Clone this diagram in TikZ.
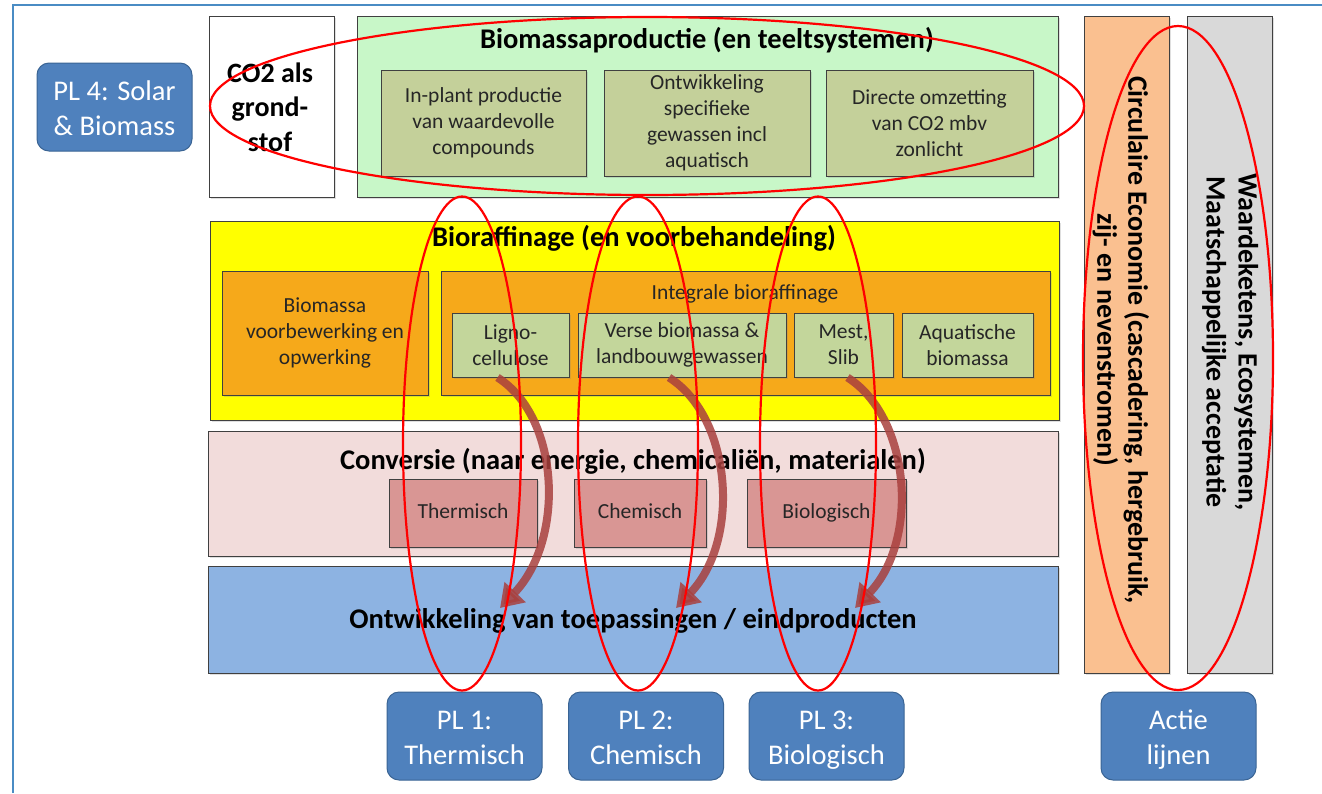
\documentclass[tikz,border=0pt]{standalone}
\usepackage{fontspec}
\setmainfont{Carlito}
\usetikzlibrary{arrows.meta, shadows}

\definecolor{frameblue}{HTML}{4A8CC4}
\definecolor{plblue}{HTML}{4F81BD}
\definecolor{plborder}{HTML}{3A6494}
\definecolor{prodgreen}{HTML}{C8F7C8}
\definecolor{olive}{HTML}{C4D09A}
\definecolor{refyellow}{HTML}{FFFF00}
\definecolor{refora}{HTML}{F6A91A}
\definecolor{ligreen}{HTML}{C3D69B}
\definecolor{convpink}{HTML}{F2DCDB}
\definecolor{convred}{HTML}{D99694}
\definecolor{devblue}{HTML}{8DB3E2}
\definecolor{peach}{HTML}{FAC090}
\definecolor{lgray}{HTML}{D9D9D9}
\definecolor{flowbrown}{HTML}{A9403E}

\tikzset{
  box/.style={draw=black!75, line width=1pt, inner sep=0pt,
    drop shadow={opacity=0.25, shadow xshift=1.5pt, shadow yshift=-1.5pt}},
  sub/.style={box, align=center, text=black!85,
    font=\fontsize{21.5}{26}\selectfont},
  title/.style={font=\bfseries\fontsize{28.5}{31}\selectfont, inner sep=0pt},
  plbox/.style={draw=plborder, line width=1pt, fill=plblue, rounded corners=12pt,
    minimum width=155pt, minimum height=88pt, text=white, align=center,
    text height=63pt, text depth=7pt, font=\fontsize{28.5}{35}\selectfont},
  ring/.style={draw=red, line width=2.2pt},
  flow/.style={draw=flowbrown, opacity=0.85, line width=8pt,
    -{Triangle[length=22pt, width=28pt]}}
}

\begin{document}
\begin{tikzpicture}[x=1pt, y=-1pt]
  \useasboundingbox (0,0) rectangle (1322,793);
  \fill[white] (0,0) rectangle (1322,793);
  % outer frame
  \draw[frameblue, line width=1.5pt] (13,793) -- (13,5) -- (1322,5);

  % action line PL 4
  \node[plbox] (pl4) at (114.5,107) {PL 4: Solar\\\& Biomass};

  % top row
  \node[box, fill=white, minimum width=125pt, minimum height=181pt] (co2) at (271.5,106.5) {};
  \node[align=center, font=\bfseries\fontsize{28}{34.5}\selectfont] (co2t) at (270,107) {CO2 als\\grond-\\stof};
  \node[box, fill=prodgreen, minimum width=701pt, minimum height=181pt] (prod) at (707.5,106.5) {};
  \node[title] (prodt) at (707,40) {Biomassaproductie (en teeltsystemen)};
  \node[sub, fill=olive, minimum width=205pt, minimum height=106pt] (inplant) at (483.5,123) {In-plant productie\\van waardevolle\\compounds};
  \node[sub, fill=olive, minimum width=206pt, minimum height=106pt] (gewas) at (707,123) {Ontwikkeling\\specifieke\\gewassen incl\\aquatisch};
  \node[sub, fill=olive, minimum width=207pt, minimum height=106pt] (direct) at (929.5,123) {Directe omzetting\\van CO2 mbv\\zonlicht};

  % bioraffinage
  \node[box, fill=refyellow, minimum width=849pt, minimum height=199pt] (raff) at (634.5,320.5) {};
  \node[title] (rafft) at (634,238) {Bioraffinage (en voorbehandeling)};
  \node[sub, fill=refora, minimum width=206pt, minimum height=124pt] (voorb) at (325,333) {Biomassa\\voorbewerking en\\opwerking};
  \node[box, fill=refora, minimum width=609pt, minimum height=124pt] (integr) at (745.5,333) {};
  \node[text=black!85, font=\fontsize{21.5}{26}\selectfont] (integrt) at (745,294) {Integrale bioraffinage};
  \node[sub, fill=ligreen, minimum width=117pt, minimum height=64pt] (ligno) at (510.5,345) {Ligno-\\cellulose};
  \node[sub, fill=ligreen, minimum width=208pt, minimum height=64pt] (verse) at (682,345) {Verse biomassa \&\\landbouwgewassen};
  \node[sub, fill=ligreen, minimum width=99pt, minimum height=64pt] (mest) at (843.5,345) {Mest,\\Slib};
  \node[sub, fill=ligreen, minimum width=131pt, minimum height=64pt] (aqua) at (967.5,345) {Aquatische\\biomassa};

  % conversie
  \node[box, fill=convpink, minimum width=850pt, minimum height=125pt] (conv) at (633,493.5) {};
  \node[title] (convt) at (633,461) {Conversie (naar energie, chemicaliën, materialen)};
  \node[sub, fill=convred, minimum width=148pt, minimum height=68pt, text height=15pt, text depth=5pt] (therm) at (463,513) {Thermisch};
  \node[sub, fill=convred, minimum width=132pt, minimum height=68pt, text height=15pt, text depth=5pt] (chem) at (640,513) {Chemisch};
  \node[sub, fill=convred, minimum width=159pt, minimum height=68pt, text height=15pt, text depth=5pt] (biol) at (826.5,513) {Biologisch};

  % toepassingen
  \node[box, fill=devblue, minimum width=850pt, minimum height=107pt] (dev) at (633,619.5) {};
  \node[title] (devt) at (633,621) {Ontwikkeling van toepassingen / eindproducten};

  % side columns
  \node[box, fill=peach, minimum width=85pt, minimum height=657pt] (circ) at (1126.5,344.5) {};
  \node[rotate=-90, align=center, font=\bfseries\fontsize{28}{31}\selectfont] (circt) at (1121,340) {Circulaire Economie (cascadering, hergebruik,\\zij- en nevenstromen)};
  \node[box, fill=lgray, minimum width=85pt, minimum height=657pt] (waard) at (1229.5,344.5) {};
  \node[rotate=-90, align=center, font=\bfseries\fontsize{28}{32}\selectfont] (waardt) at (1230,342) {Waardeketens, Ecosystemen,\\Maatschappelijke acceptatie};

  % action lines
  \node[plbox] (pl1) at (464.5,736) {PL 1:\\Thermisch};
  \node[plbox] (pl2) at (646,736) {PL 2:\\Chemisch};
  \node[plbox] (pl3) at (826.5,736) {PL 3:\\Biologisch};
  \node[plbox] (actie) at (1178.5,736) {Actie\\lijnen};

  % flows from feedstock to products
  \coordinate (d1) at (500,608);
  \coordinate (d2) at (676,608);
  \coordinate (d3) at (855,608);
  \draw[flow] ([xshift=-13pt]ligno.south) .. controls +(63,40) and +(65,-68) .. (d1);
  \draw[flow] ([xshift=-13pt]verse.south) .. controls +(63,40) and +(65,-68) .. (d2);
  \draw[flow] ([xshift=4pt]mest.south) .. controls +(63,40) and +(65,-68) .. (d3);

  % red rings
  \draw[ring] (647,106) ellipse [x radius=437, y radius=89];
  \draw[ring] (462,443.5) ellipse [x radius=59, y radius=247];
  \draw[ring] (638,443.5) ellipse [x radius=60, y radius=247];
  \draw[ring] (818,443.5) ellipse [x radius=58, y radius=247];
  \draw[ring] (1178,358) ellipse [x radius=95, y radius=332];
\end{tikzpicture}
\end{document}
